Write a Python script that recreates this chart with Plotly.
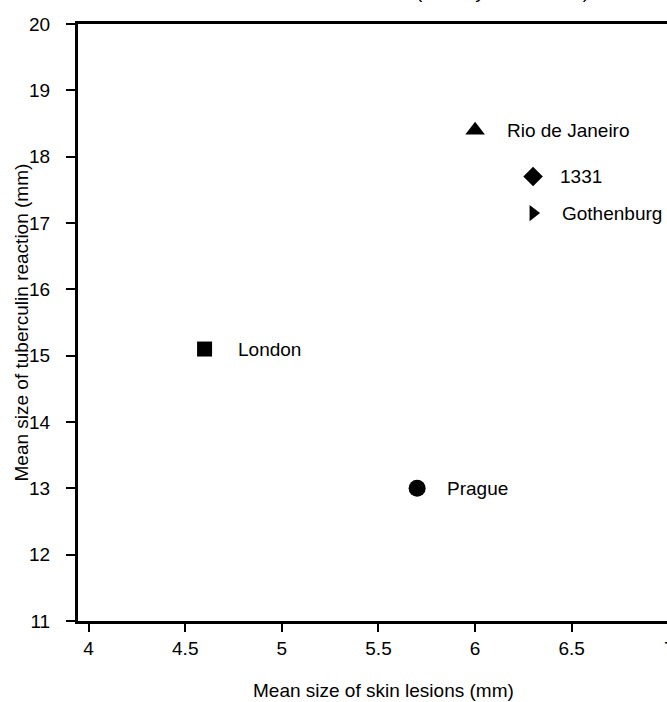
import plotly.graph_objects as go

# Data
sites = ["Rio de Janeiro", "1331", "Gothenburg", "London", "Prague"]
lesion_mm = [6.0, 6.3, 6.3, 4.6, 5.7]
tuberculin_mm = [18.4, 17.7, 17.15, 15.1, 13.0]
symbols = ["triangle-up", "diamond", "triangle-right", "square", "circle"]
sizes = [17, 15, 14, 15, 17]
label_shift = [30, 25, 27, 31, 28]

x_ticks = [4, 4.5, 5, 5.5, 6, 6.5]
x_tick_text = ["4", "4.5", "5", "5.5", "6", "6.5"]
y_ticks = [11, 12, 13, 14, 15, 16, 17, 18, 19, 20]

FONT = "Liberation Sans Narrow, Arial Narrow, Liberation Sans, Arial, sans-serif"

fig = go.Figure()
fig.add_trace(go.Scatter(
    x=lesion_mm, y=tuberculin_mm, mode="markers",
    marker=dict(symbol=symbols, size=sizes, color="black", opacity=1,
                line=dict(width=0)),
    hovertext=sites, showlegend=False, cliponaxis=False,
))

annotations = []
for s, xv, yv, sh in zip(sites, lesion_mm, tuberculin_mm, label_shift):
    annotations.append(dict(
        x=xv, y=yv, xref="x", yref="y", text=s, showarrow=False,
        xanchor="left", yanchor="middle", xshift=sh,
        font=dict(family=FONT, size=19, color="black"),
    ))

# axis titles
annotations.append(dict(
    x=0.518, y=0, xref="paper", yref="paper", yshift=-69,
    text="Mean size of skin lesions (mm)", showarrow=False,
    xanchor="center", yanchor="middle",
    font=dict(family=FONT, size=19, color="black"),
))
annotations.append(dict(
    x=0, y=0.5, xref="paper", yref="paper", xshift=-57,
    text="Mean size of tuberculin reaction (mm)", showarrow=False,
    textangle=-90, xanchor="center", yanchor="middle",
    font=dict(family=FONT, size=19, color="black"),
))
# tick label "7" at the cut right edge
annotations.append(dict(
    x=1, y=0, xref="paper", yref="paper", xshift=2, yshift=-27,
    text="7", showarrow=False, xanchor="center", yanchor="middle",
    font=dict(family=FONT, size=19, color="black"),
))
# partially visible heading at the very top
annotations.append(dict(
    x=0.72, y=1, xref="paper", yref="paper", yshift=20,
    text="(data by BCG strain)", showarrow=False,
    xanchor="center", yanchor="bottom",
    font=dict(family=FONT, size=19, color="black"),
))

fig.update_layout(
    width=667, height=702,
    margin=dict(l=78, r=0, t=24, b=81),
    paper_bgcolor="white", plot_bgcolor="white",
    annotations=annotations,
    font=dict(family=FONT, size=19, color="black"),
    xaxis=dict(
        range=[3.945, 6.993], tickvals=x_ticks, ticktext=x_tick_text,
        showgrid=False, zeroline=False,
        showline=True, linecolor="black", linewidth=2.5, mirror=True,
        ticks="outside", ticklen=8, tickwidth=1.5, tickcolor="black",
        ticklabelstandoff=0,
        tickfont=dict(family=FONT, size=19, color="black"),
    ),
    yaxis=dict(
        range=[11, 20], tickvals=y_ticks,
        showgrid=False, zeroline=False,
        showline=True, linecolor="black", linewidth=3,
        ticks="outside", ticklen=9, tickwidth=1.5, tickcolor="black",
        ticklabelstandoff=12,
        tickfont=dict(family=FONT, size=19, color="black"),
    ),
)

fig.write_html(
    "out.html",
    config={"displayModeBar": False},
    post_script="document.body.style.margin='0';"
                "document.body.style.overflow='hidden';",
)
